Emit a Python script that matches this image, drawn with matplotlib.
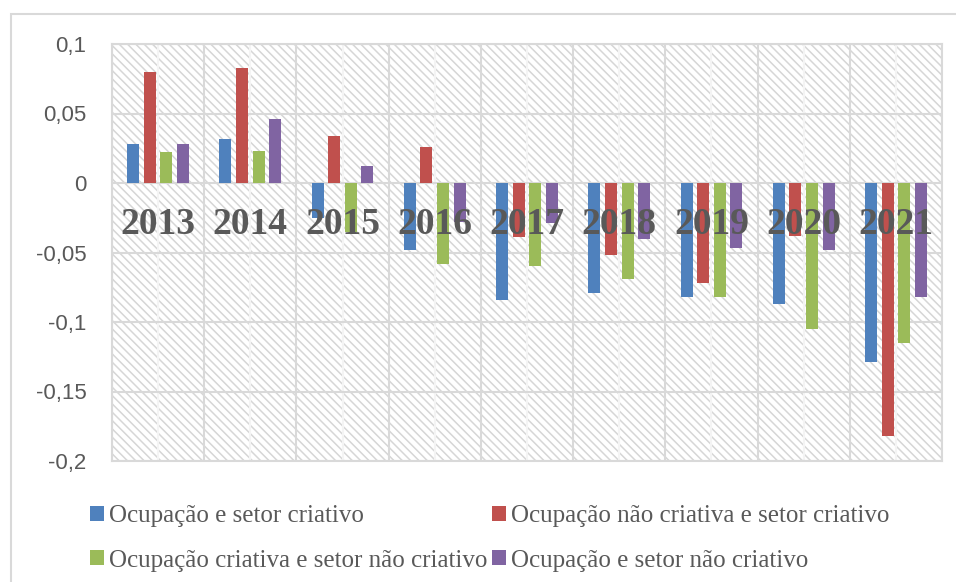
import matplotlib
matplotlib.use('Agg')
import matplotlib.pyplot as plt
from matplotlib.patches import Rectangle
import numpy as np

anos = ['2013', '2014', '2015', '2016', '2017', '2018', '2019', '2020', '2021']
series_nomes = ['Ocupação e setor criativo',
                'Ocupação não criativa e setor criativo',
                'Ocupação criativa e setor não criativo',
                'Ocupação e setor não criativo']
ocup_setor_criativo = [0.028, 0.032, -0.025, -0.048, -0.084, -0.079, -0.082, -0.087, -0.129]
nao_criativa_setor_criativo = [0.080, 0.083, 0.034, 0.026, -0.039, -0.052, -0.072, -0.038, -0.182]
criativa_setor_nao_criativo = [0.022, 0.023, -0.035, -0.058, -0.060, -0.069, -0.082, -0.105, -0.115]
ocup_setor_nao_criativo = [0.028, 0.046, 0.012, -0.028, -0.029, -0.040, -0.047, -0.048, -0.082]
yticks = [0.1, 0.05, 0, -0.05, -0.1, -0.15, -0.2]
ytick_labels = ['0,1', '0,05', '0', '-0,05', '-0,1', '-0,15', '-0,2']

cores = ['#4F81BD', '#C0504D', '#9BBB59', '#8064A2']
cinza = '#595959'
linha = '#d9d9d9'

fig = plt.figure(figsize=(9.56, 5.82), dpi=100)
ax = fig.add_axes([112/956, 1 - 461/582, 830/956, 417/582])

# fundo hachurado
plt.rcParams['hatch.linewidth'] = 1.1
ax.add_patch(Rectangle((0, 0), 1, 1, transform=ax.transAxes, facecolor='white',
                       edgecolor='#d6d6d6', linewidth=0, hatch='\\\\\\\\', zorder=0))

x = np.arange(len(anos))
dados = [ocup_setor_criativo, nao_criativa_setor_criativo,
         criativa_setor_nao_criativo, ocup_setor_nao_criativo]
offsets = [-0.27, -0.09, 0.09, 0.27]
barras = []
for vals, off, cor, nome in zip(dados, offsets, cores, series_nomes):
    barras.append(ax.bar(x + off, vals, width=0.13, color=cor, label=nome, zorder=3))

for i, ano in enumerate(anos):
    ax.text(i, -0.0295, ano, ha='center', va='center', fontsize=27, fontweight='bold',
            family='Liberation Serif', color=cinza, zorder=5)

ax.set_xlim(-0.5, len(anos) - 0.5)
ax.set_ylim(-0.2, 0.1)
ax.set_yticks(yticks)
ax.set_yticklabels(ytick_labels, fontsize=16, color=cinza, family='Liberation Sans')
ax.set_xticks(np.arange(len(anos) + 1) - 0.5)
ax.set_xticks(x, minor=True)
ax.set_xticklabels([])
ax.tick_params(axis='both', which='both', length=0)
ax.tick_params(axis='y', pad=18.5)
ax.grid(True, which='major', color=linha, linewidth=1.5, zorder=1)
ax.grid(True, which='minor', axis='x', color='#f4f4f4', linewidth=1.5, zorder=1)
ax.set_axisbelow(True)
for s in ax.spines.values():
    s.set_color(linha)
    s.set_linewidth(1.5)

# borda externa do gráfico
fig.patches.append(Rectangle((11/956, -0.1), 1.2, 1 - 14/582 + 0.1, transform=fig.transFigure,
                             fill=False, edgecolor=linha, linewidth=1.5))

ordem = [0, 2, 1, 3]
leg = fig.legend([barras[k] for k in ordem], [series_nomes[k] for k in ordem],
                 loc='upper left', bbox_to_anchor=(80/956, 1 - 495/582), ncol=2,
                 frameon=False, prop={'family': 'Liberation Serif', 'size': 18},
                 handlelength=0.55, handleheight=0.55, handletextpad=0.2,
                 columnspacing=0.2, labelspacing=0.9, borderaxespad=0)
for t in leg.get_texts():
    t.set_color(cinza)

fig.savefig('out.png', dpi=100)
